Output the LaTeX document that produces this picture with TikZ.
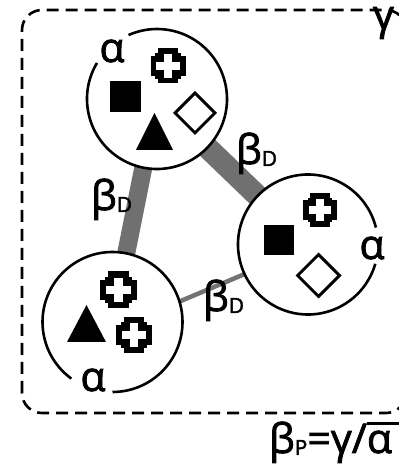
\documentclass[tikz,border=0pt]{standalone}
\usepackage{fontspec}
\setmainfont{Open Sans}
\newfontfamily\labfont{Open Sans}[FakeBold=2]
\usetikzlibrary{shapes.geometric}
\definecolor{bandgray}{RGB}{112,112,112}
\definecolor{thingray}{RGB}{115,115,115}
\tikzset{
  x=1pt,y=1pt,
  ring/.style={circle,inner sep=0,outer sep=0,minimum size=140,fill=white,draw=none},
  rim/.style={line width=2.6pt,black},
  lab/.style={font=\labfont\fontsize{41}{44}\selectfont,inner sep=0,outer sep=0},
  band/.style={bandgray,line width=#1},
  sq/.style={fill=black,inner sep=0,minimum size=#1},
  dmd/.style={diamond,draw=black,line width=3pt,inner sep=0,minimum size=#1},
  bcross/.pic={
    \fill[black] (-0.5,-0.28) rectangle (0.5,0.28);
    \fill[black] (-0.28,-0.5) rectangle (0.28,0.5);
    \fill[black] (-0.36,-0.36) rectangle (0.36,0.36);
    \fill[white] (-0.33,-0.12) rectangle (0.33,0.12);
    \fill[white] (-0.12,-0.33) rectangle (0.12,0.33);
  }
}
\newcommand\subD[1]{\raisebox{-2pt}{\fontsize{21}{24}\selectfont #1}}
\begin{document}
\begin{tikzpicture}
\useasboundingbox (0,0) rectangle (399,466);
% frame
\draw[line width=2.6pt,dash pattern=on 12pt off 7pt,rounded corners=20pt] (22,53) rectangle (406,456);
\node[lab,anchor=base west] (gam) at (373,437) {γ};
% circle nodes
\node[ring] (c1) at (157,367) {};
\node[ring] (c2) at (308,221.5) {};
\node[ring] (c3) at (112.5,144) {};
% connectors
\draw[band=22pt] (c1.center) -- (c2.center);
\draw[band=18pt] (c1.center) -- (c3.center);
\draw[thingray,line width=4.5pt] (c3.17) -- (c2.205);
% circle fills over bands
\fill[white] (c1.center) circle[radius=70];
\fill[white] (c2.center) circle[radius=70];
\fill[white] (c3.center) circle[radius=70];
% rims with gaps
\draw[rim] (c1.149) arc[start angle=149,end angle=474,radius=70];
\draw[rim] (c2.14) arc[start angle=14,end angle=344,radius=70];
\draw[rim] (c3.270) arc[start angle=270,end angle=594,radius=70];
% alpha labels
\node[lab] (a1) at (112,415) {α};
\node[lab] (a2) at (372,218) {α};
\node[lab] (a3) at (93,86) {α};
% circle 1 contents
\pic[scale=35] at (168,400) {bcross};
\node[sq=31pt] (s1) at (125,369.5) {};
\node[dmd=41pt] (d1) at (195,353) {};
\fill[black] (154.5,353) -- (136,316) -- (173,316) -- cycle;
% circle 2 contents
\pic[scale=34] at (320,256) {bcross};
\node[sq=30pt] (s2) at (279,226) {};
\node[dmd=43pt] (d2) at (318.5,190.5) {};
% circle 3 contents
\pic[scale=37] at (118.5,176) {bcross};
\pic[scale=36] at (134,131) {bcross};
\fill[black] (86.5,161) -- (67,124) -- (106,124) -- cycle;
% beta labels
\node[lab,anchor=base west] (b12) at (236,302) {β\subD{D}};
\node[lab,anchor=base west] (b13) at (91,256) {β\subD{D}};
\node[lab,anchor=base west] (b32) at (203,155) {β\subD{D}};
% bottom formula
\node[lab,anchor=base west] (bp) at (269,13) {β\subD{P}=γ/\setbox0\hbox{α}\rlap{\rule[28pt]{40pt}{3pt}}\box0};
\end{tikzpicture}
\end{document}
